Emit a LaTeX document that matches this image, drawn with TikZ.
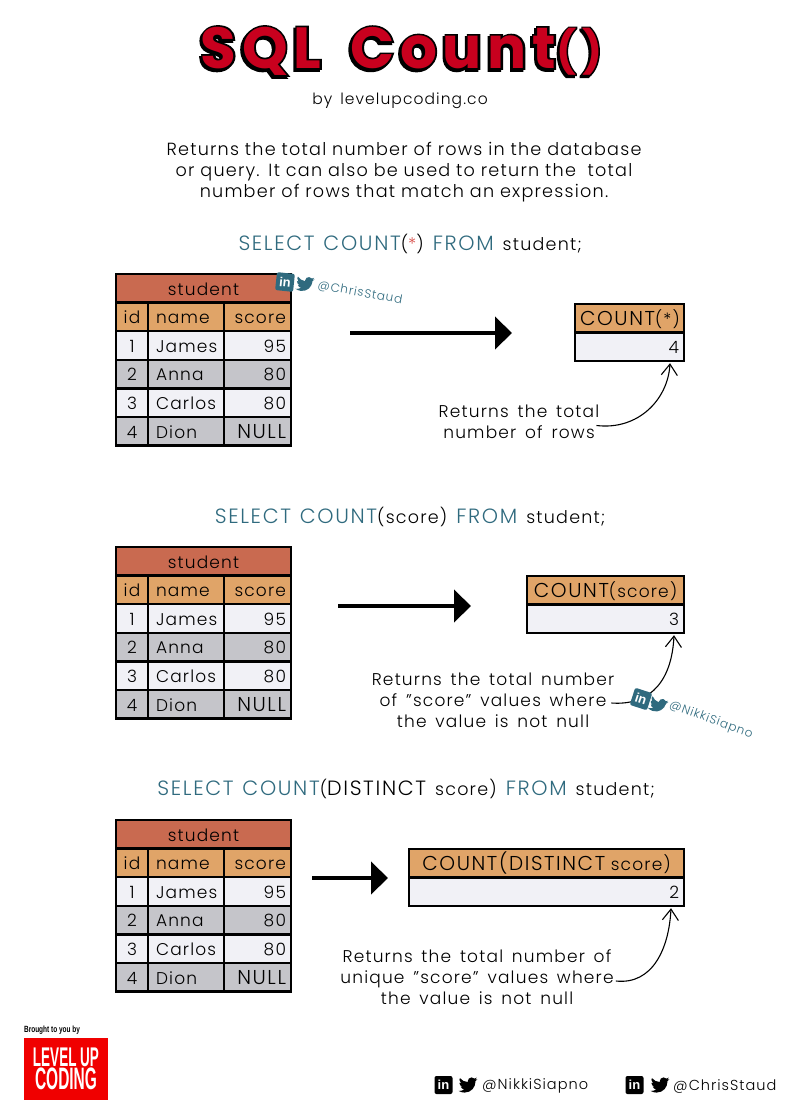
\documentclass[tikz,border=0pt]{standalone}
\usepackage{fontspec}
\setmainfont{Poppins}[UprightFont=* Light,BoldFont=* SemiBold,LetterSpace=7,WordSpace=1.5]
\newfontfamily\headfont{Poppins}[UprightFont=* Bold,LetterSpace=10,WordSpace=1.6]
\newfontfamily\edgefont{Poppins}[UprightFont=* Bold,LetterSpace=10,WordSpace=1.6,FakeBold=6]
\newfontfamily\capsfont{Poppins}[UprightFont=* Light,Scale=1.18,LetterSpace=8,WordSpace=1.2]
\newfontfamily\logofont{Liberation Sans}[UprightFont=* Bold]
\usetikzlibrary{arrows.meta, calc}
\definecolor{titlered}{HTML}{C8001E}
\definecolor{titlerow}{HTML}{C96A50}
\definecolor{headrow}{HTML}{E0A468}
\definecolor{literow}{HTML}{F1F1F6}
\definecolor{grayrow}{HTML}{C5C5CA}
\definecolor{sqlteal}{HTML}{2F6A7E}
\definecolor{sqlred}{HTML}{D9534F}
\definecolor{logored}{HTML}{F00000}
\newcommand{\bodyfont}{\fontsize{17}{21}\selectfont}
\newcommand{\sqlfont}{\fontsize{17.5}{21}\selectfont}
\newcommand{\kw}[1]{{\capsfont #1}}
\newcommand{\sqlkw}[1]{\textcolor{sqlteal}{\kw{#1}}}
\newcommand{\ttltext}{SQL Count\raisebox{2pt}{\fontsize{42}{42}\selectfont(\hspace{6pt})}}
\tikzset{
  cell/.style={draw, line width=2.5pt, outer sep=0pt, inner ysep=0pt, inner xsep=5pt, anchor=north west,
    minimum height=28.6pt, text height=16.5pt, text depth=3pt, font=\bodyfont},
  idcell/.style={cell, text width=22pt, align=center},
  namecell/.style={cell, inner xsep=8pt, text width=60pt, align=left},
  scorecell/.style={cell, text width=57pt, align=right},
  titlecell/.style={cell, text width=165pt, align=center, fill=titlerow},
  resulthead/.style={cell, text width=#1, align=center, fill=headrow},
  resultval/.style={cell, text width=#1, align=right, fill=literow},
  note/.style={align=center, font=\bodyfont, inner sep=0pt},
  sql/.style={font=\sqlfont, inner sep=0pt},
  titletext/.style={font=\headfont\fontsize{58}{58}\selectfont, inner sep=0pt},
  titleedge/.style={font=\edgefont\fontsize{58}{58}\selectfont, inner sep=0pt},
  flow/.style={line width=4.5pt, -{Triangle[length=17pt,width=32pt]}},
  curve/.style={line width=1.1pt, -{Straight Barb[length=11pt,width=16pt]}},
  handle/.style={font=\fontsize{#1}{#1}\selectfont, inner sep=0pt},
  inbox/.pic={
    \node[fill=#1, rounded corners=2pt, minimum size=18pt, inner sep=0pt, transform shape,
      text=white, font=\logofont\fontsize{13}{13}\selectfont] (-box) at (0,0) {in};
  },
  bird/.pic={
    \fill[#1, shift={(-12,-12)}] (24,4.6) -- (21.1,5.35) -- (23.3,2.6) .. controls (22.4,3.1) and (21.3,3.55) .. (20.2,3.8)
      .. controls (19.3,2.85) and (18,2.25) .. (16.6,2.25) .. controls (13.9,2.25) and (11.7,4.45) .. (11.7,7.15)
      .. controls (11.7,7.55) and (11.75,7.9) .. (11.8,8.25) .. controls (7.7,8.1) and (4.07,6.13) .. (1.64,3.16)
      .. controls (1.2,3.9) and (.97,4.75) .. (.97,5.64) .. controls (.97,7.35) and (1.84,8.85) .. (3.16,9.73)
      .. controls (2.35,9.7) and (1.6,9.48) .. (.93,9.12) -- (.93,9.18) .. controls (.93,11.56) and (2.62,13.54) .. (4.88,14)
      .. controls (4.17,14.2) and (3.42,14.22) .. (2.67,14.09) .. controls (3.3,16.04) and (5.12,17.46) .. (7.27,17.5)
      .. controls (5.58,18.82) and (3.45,19.6) .. (1.17,19.6) .. controls (.77,19.6) and (.38,19.58) .. (0,19.53)
      .. controls (2.2,20.93) and (4.8,21.74) .. (7.56,21.74) .. controls (16.6,21.74) and (21.55,14.24) .. (21.55,7.76)
      .. controls (21.55,7.55) and (21.55,7.34) .. (21.54,7.13) .. controls (22.5,6.44) and (23.33,5.57) .. (24,4.6) -- cycle;
  },
}
\begin{document}
\begin{tikzpicture}[x=1pt, y=-1pt]
\fill[white] (0,0) rectangle (800,1120);
\useasboundingbox (0,0) rectangle (800,1120);
\node[titleedge] (shade) at (399.5,53) {\ttltext};
\node[titleedge] (edge) at (401.5,51) {\ttltext};
\node[titletext, text=titlered] (ttl) at (401.5,51) {\ttltext};
\node[note, font=\fontsize{15.5}{21}\selectfont] (by) at (400,101) {by levelupcoding.co};
\node[note, font=\fontsize{17.6}{21}\selectfont, text width=520pt] (intro) at (404,172) {Returns the total number of rows in the database\\
  or query. It can also be used to return the\ \ total\\
  number of rows that match an expression.};
\node[sql] (q1) at (410,244) {\sqlkw{SELECT COUNT}(\textcolor{sqlred}{*}) \sqlkw{FROM} student;};
\node[sql] (q2) at (410,517) {\sqlkw{SELECT COUNT}(score) \sqlkw{FROM} student;};
\node[sql] (q3) at (406,789) {\sqlkw{SELECT COUNT}(\kw{DISTINCT} score) \sqlkw{FROM} student;};
\foreach \t/\y in {1/274,2/547,3/820} {
  \node[titlecell] (tt\t) at (116,\y) {student};
  \node[idcell, fill=headrow] (id\t0) at (tt\t.south west) {id};
  \node[namecell, fill=headrow] (nm\t0) at (id\t0.north east) {name};
  \node[scorecell, fill=headrow] (sc\t0) at (nm\t0.north east) {score};
  \foreach \r/\p/\n/\v/\f in {1/0/James/95/literow,2/1/Anna/80/grayrow,3/2/Carlos/80/literow,4/3/Dion/\kw{NULL}/grayrow} {
    \node[idcell, fill=\f] (id\t\r) at (id\t\p.south west) {\r};
    \node[namecell, fill=\f] (nm\t\r) at (id\t\r.north east) {\n};
    \node[scorecell, fill=\f] (sc\t\r) at (nm\t\r.north east) {\v};
  }
}
\node[resulthead=99pt] (rh1) at (575,304) {\kw{COUNT}(*)};
\node[resultval=99pt] (rv1) at (rh1.south west) {4};
\node[resulthead=147pt] (rh2) at (527,576) {\kw{COUNT}(score)};
\node[resultval=147pt] (rv2) at (rh2.south west) {3};
\node[resulthead=265pt] (rh3) at (409,849) {\kw{COUNT(DISTINCT} score)};
\node[resultval=265pt] (rv3) at (rh3.south west) {2};
\coordinate (a1) at (350,333);
\coordinate (b1) at (512,333);
\coordinate (a2) at (338,606);
\coordinate (b2) at (471,606);
\coordinate (a3) at (312,878);
\coordinate (b3) at (388,878);
\draw[flow] (a1) -- (b1);
\draw[flow] (a2) -- (b2);
\draw[flow] (a3) -- (b3);
\node[note] (n1) at (519,421.5) {Returns the total\\number of rows};
\node[note] (n2) at (493,700) {Returns the total number\\of "score" values where\\the value is not null};
\node[note] (n3) at (477,977) {Returns the total number of\\unique "score" values where\\the value is not null};
\draw[curve] ($(n1.east)+(-3,4)$) .. controls +(42,5) and +(-2,36) .. ($(rv1.south east)+(-14,2)$);
\draw[curve] ($(n2.east)+(-3,3)$) .. controls +(42,3) and +(-2,42) .. ($(rv2.south east)+(-10,2)$);
\draw[curve] ($(n3.east)+(2,4)$) .. controls +(37,4) and +(-2,40) .. ($(rv3.south east)+(-13,2)$);
\pic (ln1) [rotate=-6] at (285,282) {inbox=sqlteal};
\pic (tw1) [scale=.75, rotate=-6] at (305,284) {bird=sqlteal};
\node[handle=12, text=sqlteal, rotate=-10] (ch1) at (360,293) {@ChrisStaud};
\pic (ln2) [rotate=-18] at (641,699) {inbox=sqlteal};
\pic (tw2) [scale=.75, rotate=-18] at (658,705) {bird=sqlteal};
\node[handle=12, text=sqlteal, rotate=-20] (ch2) at (711,720) {@NikkiSiapno};
\node[inner sep=0pt, font=\logofont\fontsize{9}{9}\selectfont, transform shape, xscale=.72] (brought) at (52,1030) {Brought to you by};
\node[fill=logored, minimum width=84pt, minimum height=62pt, inner sep=0pt, outer sep=0pt] (logo) at (66,1069) {};
\node[text=white, inner sep=0pt, align=center, font=\logofont\fontsize{27}{23}\selectfont, transform shape, xscale=.5] (logotext) at (logo.center) {LEVEL UP\\{\fontsize{31}{23}\selectfont CODING}};
\pic (ln3) at (443.5,1085) {inbox=black};
\pic (tw3) [scale=.78] at (468,1085) {bird=black};
\node[handle=14.5, anchor=west] (ch3) at (482,1086) {@NikkiSiapno};
\pic (ln4) at (634.5,1085) {inbox=black};
\pic (tw4) [scale=.78] at (660,1085) {bird=black};
\node[handle=14.5, anchor=west] (ch4) at (673,1086) {@ChrisStaud};
\end{tikzpicture}
\end{document}
